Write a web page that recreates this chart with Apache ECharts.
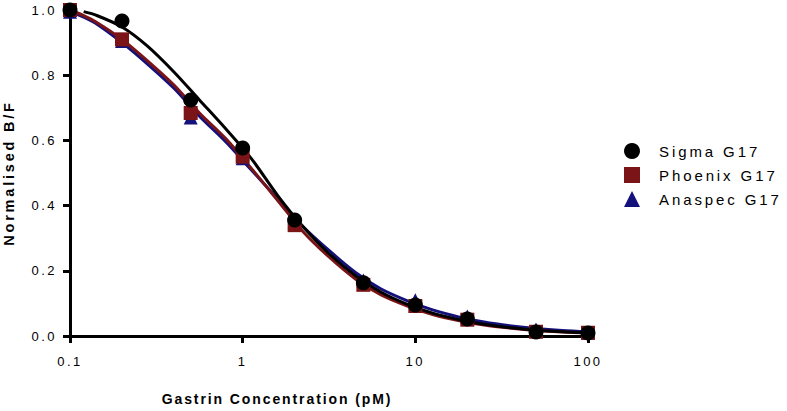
<!DOCTYPE html>
<html>
<head>
<meta charset="utf-8">
<script src="https://cdn.jsdelivr.net/npm/echarts@6/dist/echarts.min.js"></script>
<style>
	html, body { margin: 0; padding: 0; background: #fff; }
	#chart { width: 787px; height: 411px; }
	/* wide tracking like the original export */
	#chart svg text { letter-spacing: 2.5px; }
	#chart svg text[style*="15px"] { letter-spacing: 2.9px; }
	#chart svg text[style*="bold"] { letter-spacing: 1.9px; }
	#chart svg text[style*="14.5px"] { letter-spacing: 2.8px; }
</style>
</head>
<body>
<div id="chart"></div>
<script>
// measured points
let doses = [0.1, 0.2, 0.5, 1, 2, 5, 10, 20, 50, 100]
let sigmaPts = [1.0, 0.966, 0.724, 0.577, 0.356, 0.163, 0.095, 0.052, 0.012, 0.009]
let phoenixPts = [1.0, 0.91, 0.684, 0.55, 0.34, 0.157, 0.092, 0.05, 0.013, 0.01]
let anaspecPts = [0.995, 0.905, 0.67, 0.545, 0.35, 0.17, 0.11, 0.06, 0.02, 0.01]

// fitted curves
let curveX = [0.1, 0.12, 0.14, 0.2, 0.28, 0.4, 0.56, 0.8, 1.12, 1.6, 2.24, 3.2, 4.5, 6.3, 9, 12.6, 18, 25, 36, 50, 71, 100]
let sigmaFit = [null, 0.995, 0.985, 0.948, 0.89, 0.81, 0.725, 0.635, 0.545, 0.43, 0.335, 0.25, 0.185, 0.135, 0.097, 0.07, 0.05, 0.036, 0.025, 0.018, 0.013, 0.01]
let phoenixFit = [1.0, 0.983, 0.965, 0.91, 0.845, 0.77, 0.685, 0.605, 0.515, 0.415, 0.32, 0.24, 0.175, 0.127, 0.092, 0.066, 0.047, 0.034, 0.024, 0.017, 0.012, 0.009]
let anaspecFit = [0.995, 0.978, 0.96, 0.9, 0.835, 0.76, 0.675, 0.595, 0.51, 0.42, 0.335, 0.26, 0.195, 0.145, 0.108, 0.08, 0.058, 0.043, 0.031, 0.023, 0.017, 0.013]

let names = ["Sigma G17", "Phoenix G17", "Anaspec G17"]
let colors = ["#000000", "#7a1416", "#15117a"]
let symbols = ["circle", "rect", "triangle"]

function pairs(xs, ys) {
	let out = []
	xs.forEach(function (x, i) {
		if (ys[i] != null) {
			out.push([x, ys[i]])
		}
	})
	return out
}

let pts = [sigmaPts, phoenixPts, anaspecPts]
let fits = [sigmaFit, phoenixFit, anaspecFit]

let series = []
// curves: anaspec at the bottom, sigma on top
for (let i = 2; i >= 0; i--) {
	series.push({
		name: names[i] + " fit",
		type: "line",
		data: pairs(curveX, fits[i]),
		smooth: 0.3,
		showSymbol: false,
		lineStyle: {color: colors[i], width: 3},
		z: 2 + (2 - i),
		silent: true
	})
}
for (let i = 2; i >= 0; i--) {
	series.push({
		name: names[i],
		type: "scatter",
		data: pairs(doses, pts[i]),
		symbol: symbols[i],
		symbolSize: i == 0 ? 15 : 14,
		itemStyle: {color: colors[i], opacity: 1},
		z: 6 + (2 - i)
	})
}

let chart = echarts.init(document.getElementById("chart"), null, {renderer: "svg"})
chart.setOption({
	animation: false,
	backgroundColor: "#fff",
	textStyle: {fontFamily: "Liberation Sans, Arial, sans-serif"},
	grid: {left: 70, right: 199, top: 10, bottom: 75, containLabel: false, outerBoundsMode: "none"},
	legend: {
		orient: "vertical",
		left: 619,
		top: 138,
		itemWidth: 16,
		itemHeight: 16,
		itemGap: 8,
		textStyle: {fontSize: 15, color: "#000", padding: [0, 0, 0, 14]},
		data: names.map(function (n, i) {
			return {name: n, icon: symbols[i]}
		})
	},
	xAxis: {
		type: "log",
		logBase: 10,
		min: 0.1,
		max: 100,
		name: "Gastrin Concentration (pM)",
		nameLocation: "middle",
		nameGap: 56,
		nameTextStyle: {fontWeight: "bold", fontSize: 14, color: "#000", padding: [0, 104, 0, 0]},
		axisLine: {lineStyle: {color: "#000", width: 3}},
		axisTick: {lineStyle: {color: "#000", width: 3}, length: 7},
		minorTick: {show: false},
		splitLine: {show: false},
		axisLabel: {color: "#000", fontSize: 13, margin: 19}
	},
	yAxis: {
		type: "value",
		min: 0,
		max: 1,
		interval: 0.2,
		name: "Normalised B/F",
		nameLocation: "middle",
		nameGap: 54,
		nameTextStyle: {fontWeight: "bold", fontSize: 14.5, color: "#000"},
		axisLine: {show: true, lineStyle: {color: "#000", width: 3}},
		axisTick: {show: true, lineStyle: {color: "#000", width: 3}, length: 7},
		splitLine: {show: false},
		axisLabel: {
			color: "#000",
			fontSize: 13,
			margin: 13,
			formatter: function (v) {
				return v.toFixed(1)
			}
		}
	},
	series: series
})
</script>
</body>
</html>
